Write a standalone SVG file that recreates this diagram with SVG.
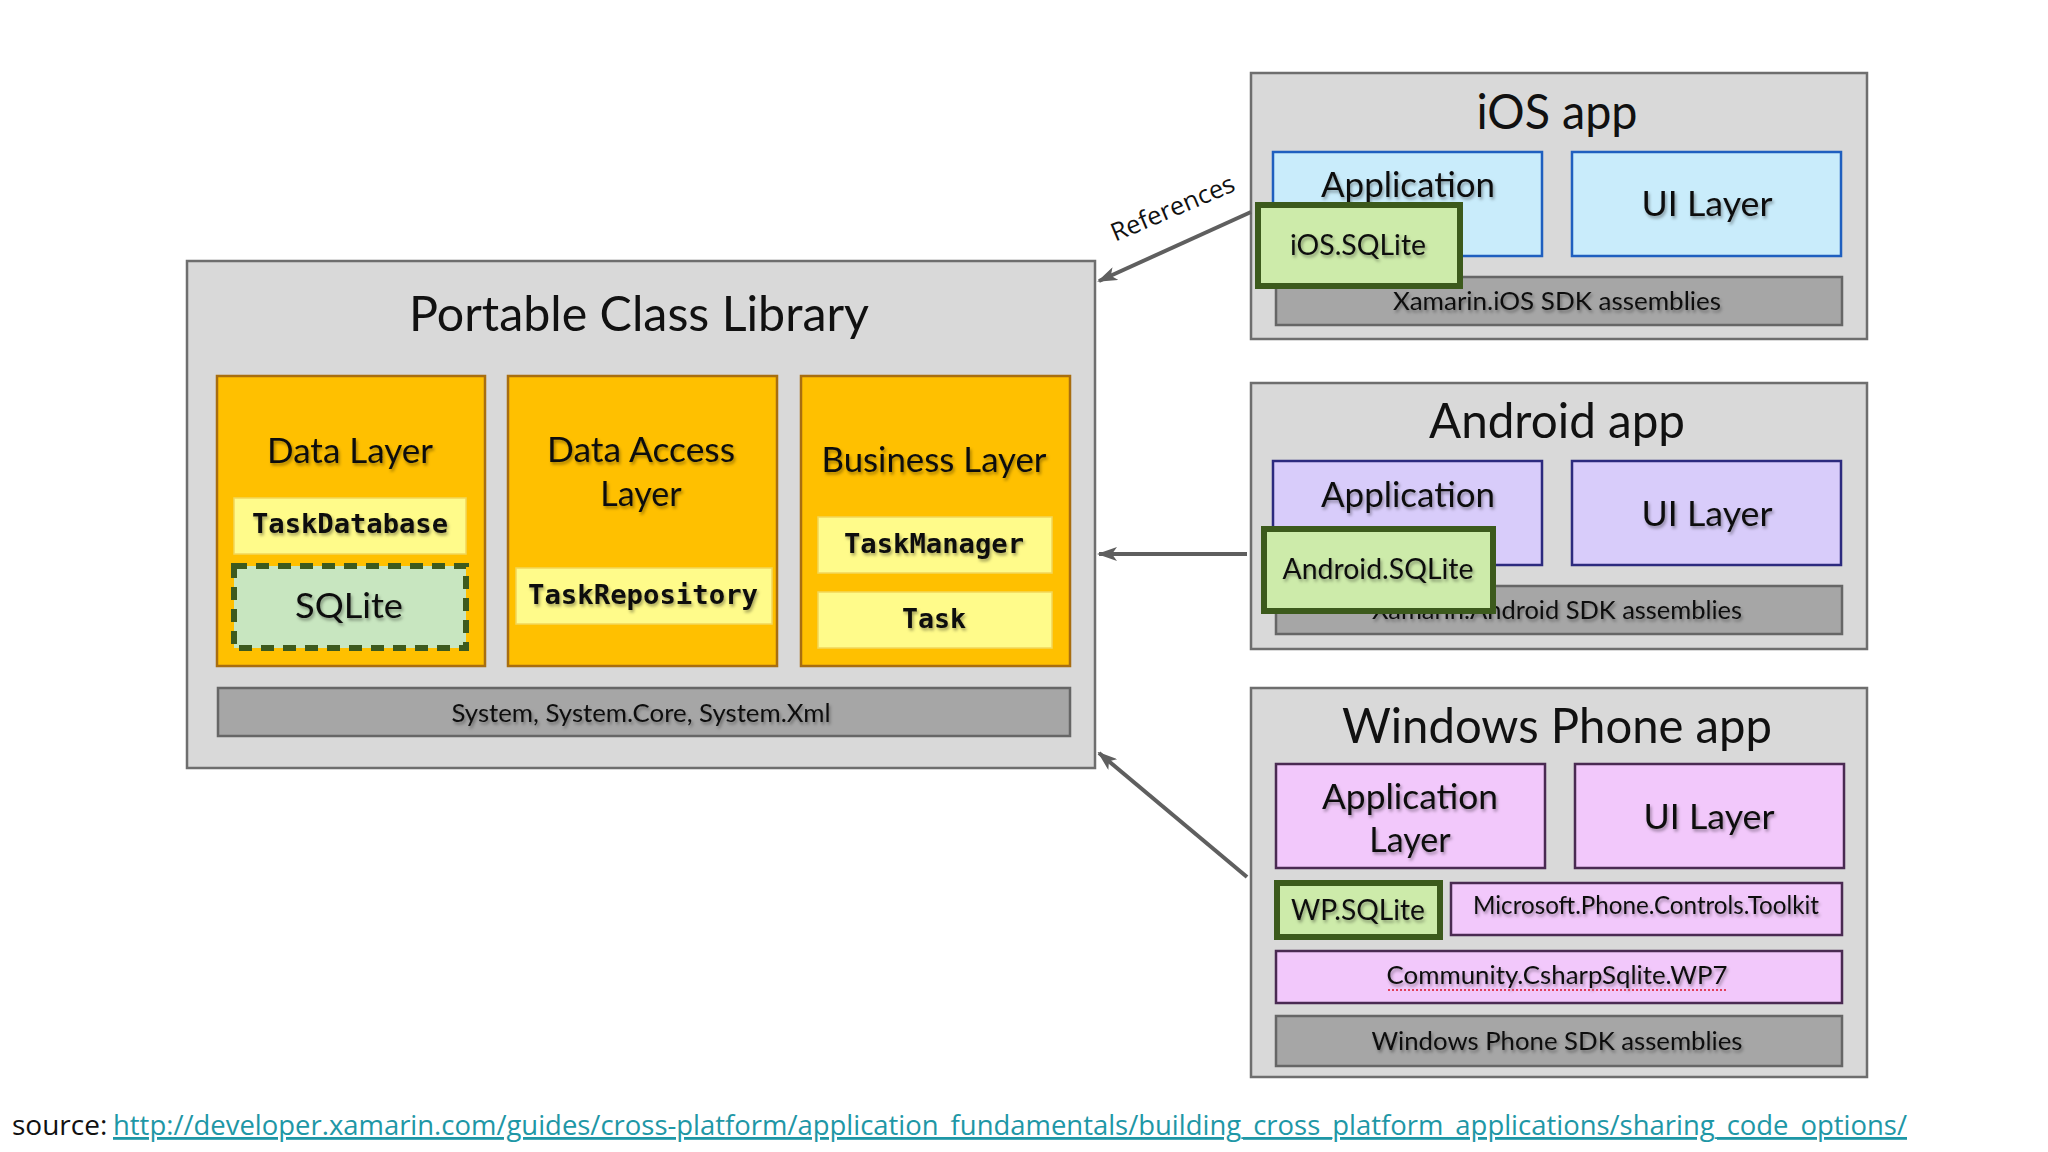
<svg xmlns="http://www.w3.org/2000/svg" width="2048" height="1152" viewBox="0 0 2048 1152">
<defs>
<style>
.bg{fill:#ffffff}
.container{fill:#d9d9d9;stroke:#6e6e6e;stroke-width:2.5}
.col{fill:#ffc000;stroke:#a86e10;stroke-width:2.5}
.yel{fill:#fffb8a;stroke:#f2d65a;stroke-width:1.5}
.sqldash{fill:#c8e6c0;stroke:#3d5a1e;stroke-width:6;stroke-dasharray:13 9}
.bar{fill:#a6a6a6;stroke:#666666;stroke-width:2.5}
.ios{fill:#c9ecfb;stroke:#1f5fbf;stroke-width:2.5}
.and{fill:#d8ccfa;stroke:#2c2a7e;stroke-width:2.5}
.wp{fill:#f2c8fb;stroke:#4a2a52;stroke-width:2.5}
.green{fill:#cdebaa;stroke:#3c5a1c;stroke-width:6}
.t{font-family:Lato,"Liberation Sans",sans-serif;fill:#111;text-anchor:middle}
.title{font-size:49px}
.lbl{font-size:34px;filter:url(#sh)}
.sm{font-size:25px;filter:url(#sh)}
.mono{font-family:"DejaVu Sans Mono","Liberation Mono",monospace;font-weight:bold;font-size:27px;fill:#111;text-anchor:middle;filter:url(#sh)}
.conn{stroke:#5f5f5f;stroke-width:4;fill:none;marker-end:url(#ah)}
.src{font-family:"Open Sans","Noto Sans",sans-serif;font-size:28px}
</style>
<filter id="sh" x="-10%" y="-30%" width="120%" height="170%">
<feDropShadow dx="1.5" dy="2.5" stdDeviation="1.5" flood-color="#000" flood-opacity="0.35"/>
</filter>
<marker id="ah" viewBox="0 0 20 14" refX="18" refY="7" markerWidth="20" markerHeight="14" markerUnits="userSpaceOnUse" orient="auto">
<path d="M0,0 L20,7 L0,14 L5,7 Z" fill="#5f5f5f"/>
</marker>
</defs>
<rect class="bg" x="0" y="0" width="2048" height="1152"/>

<g id="pcl">
<rect class="container" x="187" y="261" width="908" height="507"/>
<text class="t title" x="639" y="331" textLength="460" lengthAdjust="spacingAndGlyphs">Portable Class Library</text>
</g>

<g id="data-layer">
<rect class="col" x="217" y="376" width="268" height="290"/>
<text class="t lbl" x="350" y="463" textLength="166" lengthAdjust="spacingAndGlyphs">Data Layer</text>
</g>
<g id="taskdatabase">
<rect class="yel" x="234" y="498" width="232" height="56"/>
<text class="mono" x="350" y="533" textLength="196" lengthAdjust="spacingAndGlyphs">TaskDatabase</text>
</g>
<g id="sqlite">
<rect class="sqldash" x="234" y="566" width="232" height="82"/>
<text class="t lbl" x="349" y="618" textLength="108" lengthAdjust="spacingAndGlyphs">SQLite</text>
</g>

<g id="data-access-layer">
<rect class="col" x="508" y="376" width="269" height="290"/>
<text class="t lbl" x="641" y="462" textLength="188" lengthAdjust="spacingAndGlyphs">Data Access</text>
<text class="t lbl" x="641" y="506">Layer</text>
</g>
<g id="taskrepository">
<rect class="yel" x="516" y="568" width="256" height="56"/>
<text class="mono" x="643" y="604" textLength="230" lengthAdjust="spacingAndGlyphs">TaskRepository</text>
</g>

<g id="business-layer">
<rect class="col" x="801" y="376" width="269" height="290"/>
<text class="t lbl" x="934" y="472" textLength="225" lengthAdjust="spacingAndGlyphs">Business Layer</text>
</g>
<g id="taskmanager">
<rect class="yel" x="818" y="517" width="234" height="56"/>
<text class="mono" x="934" y="553" textLength="180" lengthAdjust="spacingAndGlyphs">TaskManager</text>
</g>
<g id="task">
<rect class="yel" x="818" y="592" width="234" height="56"/>
<text class="mono" x="934" y="628" textLength="64" lengthAdjust="spacingAndGlyphs">Task</text>
</g>

<g id="system">
<rect class="bar" x="218" y="688" width="852" height="48"/>
<text class="t sm" x="641" y="722" textLength="379" lengthAdjust="spacingAndGlyphs">System, System.Core, System.Xml</text>
</g>

<g id="ios-app">
<rect class="container" x="1251" y="73" width="616" height="266"/>
<text class="t title" x="1557" y="129" textLength="161" lengthAdjust="spacingAndGlyphs">iOS app</text>
</g>
<g id="ios-application">
<rect class="ios" x="1273" y="152" width="269" height="104"/>
<text class="t lbl" x="1408" y="197" textLength="174" lengthAdjust="spacingAndGlyphs">Application</text>
</g>
<g id="ios-ui">
<rect class="ios" x="1572" y="152" width="269" height="104"/>
<text class="t lbl" x="1707" y="216" textLength="131" lengthAdjust="spacingAndGlyphs">UI Layer</text>
</g>
<g id="ios-sdk">
<rect class="bar" x="1276" y="277" width="566" height="48"/>
<text class="t sm" x="1557" y="310" textLength="328" lengthAdjust="spacingAndGlyphs">Xamarin.iOS SDK assemblies</text>
</g>
<g id="ios-sqlite">
<rect class="green" x="1258" y="205" width="202" height="81"/>
<text class="t sm" x="1358" y="255" style="font-size:28px" textLength="136" lengthAdjust="spacingAndGlyphs">iOS.SQLite</text>
</g>

<g id="android-app">
<rect class="container" x="1251" y="383" width="616" height="266"/>
<text class="t title" x="1557" y="438" textLength="256" lengthAdjust="spacingAndGlyphs">Android app</text>
</g>
<g id="android-application">
<rect class="and" x="1273" y="461" width="269" height="104"/>
<text class="t lbl" x="1408" y="507" textLength="174" lengthAdjust="spacingAndGlyphs">Application</text>
</g>
<g id="android-ui">
<rect class="and" x="1572" y="461" width="269" height="104"/>
<text class="t lbl" x="1707" y="526" textLength="131" lengthAdjust="spacingAndGlyphs">UI Layer</text>
</g>
<g id="android-sdk">
<rect class="bar" x="1276" y="586" width="566" height="48"/>
<text class="t sm" x="1557" y="619" textLength="370" lengthAdjust="spacingAndGlyphs">Xamarin.Android SDK assemblies</text>
</g>
<g id="android-sqlite">
<rect class="green" x="1264" y="529" width="229" height="82"/>
<text class="t sm" x="1378" y="579" style="font-size:28px" textLength="191" lengthAdjust="spacingAndGlyphs">Android.SQLite</text>
</g>

<g id="wp-app">
<rect class="container" x="1251" y="688" width="616" height="389"/>
<text class="t title" x="1557" y="743" textLength="430" lengthAdjust="spacingAndGlyphs">Windows Phone app</text>
</g>
<g id="wp-application">
<rect class="wp" x="1276" y="764" width="269" height="104"/>
<text class="t lbl" x="1410" y="809" textLength="176" lengthAdjust="spacingAndGlyphs">Application</text>
<text class="t lbl" x="1410" y="852">Layer</text>
</g>
<g id="wp-ui">
<rect class="wp" x="1575" y="764" width="269" height="104"/>
<text class="t lbl" x="1709" y="829" textLength="131" lengthAdjust="spacingAndGlyphs">UI Layer</text>
</g>
<g id="wp-sqlite">
<rect class="green" x="1277" y="883" width="163" height="54"/>
<text class="t sm" x="1358" y="920" style="font-size:28px" textLength="134" lengthAdjust="spacingAndGlyphs">WP.SQLite</text>
</g>
<g id="wp-toolkit">
<rect class="wp" x="1451" y="883" width="391" height="52"/>
<text class="t sm" x="1646" y="914" textLength="346" lengthAdjust="spacingAndGlyphs">Microsoft.Phone.Controls.Toolkit</text>
</g>
<g id="wp-csharpsqlite">
<rect class="wp" x="1276" y="951" width="566" height="52"/>
<text class="t sm" x="1557" y="984" textLength="341" lengthAdjust="spacingAndGlyphs">Community.CsharpSqlite.WP7</text>
<line x1="1388" y1="990" x2="1728" y2="990" stroke="#e0405a" stroke-width="2" stroke-dasharray="2 2"/>
</g>
<g id="wp-sdk">
<rect class="bar" x="1276" y="1016" width="566" height="50"/>
<text class="t sm" x="1557" y="1050" textLength="371" lengthAdjust="spacingAndGlyphs">Windows Phone SDK assemblies</text>
</g>

<g id="connectors">
<line class="conn" x1="1251" y1="212" x2="1099" y2="281"/>
<text font-family="'Open Sans','Noto Sans',sans-serif" font-size="25" fill="#111" text-anchor="middle" transform="translate(1176,216) rotate(-23)" textLength="132" lengthAdjust="spacingAndGlyphs">References</text>
<line class="conn" x1="1247" y1="554" x2="1099" y2="554"/>
<line class="conn" x1="1247" y1="877" x2="1099" y2="753"/>
</g>

<g id="source">
<text class="src" x="12" y="1135" fill="#111">source: </text>
<text class="src" x="113" y="1135" fill="#1e97a6" text-decoration="underline" textLength="1794" lengthAdjust="spacingAndGlyphs">http://developer.xamarin.com/guides/cross-platform/application_fundamentals/building_cross_platform_applications/sharing_code_options/</text>
</g>
</svg>
